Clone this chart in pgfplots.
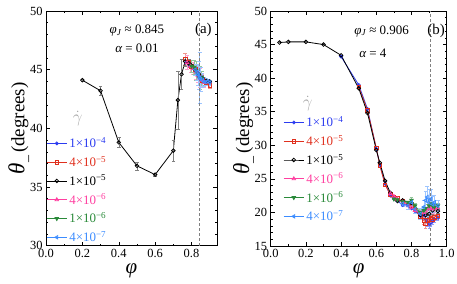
\documentclass[border=0pt]{standalone}
\usepackage{fontspec}
\setmainfont{Liberation Serif}
\usepackage{pgfplots}
\pgfplotsset{compat=1.18}
\definecolor{cA}{HTML}{2B3BF0}
\definecolor{cB}{HTML}{E0301E}
\definecolor{cC}{HTML}{000000}
\definecolor{cD}{HTML}{FF3FA0}
\definecolor{cE}{HTML}{2A8A3A}
\definecolor{cF}{HTML}{3C8CFF}
\pgfplotsset{
  myax/.style={
    scale only axis,
    axis line style={line width=0.6pt},
    tick align=inside,
    major tick length=4pt, minor tick length=2pt,
    every tick/.style={line width=0.5pt},
    tick label style={font=\fontsize{12.5}{14}\selectfont},
    /pgf/number format/assume math mode=true,
    xticklabel style={/pgf/number format/.cd, fixed, fixed zerofill, precision=1},
    xlabel={\fontsize{21}{22}\selectfont\itshape φ},
    ylabel={\fontsize{19}{20}\selectfont{\fontsize{23}{23}\selectfont\itshape θ}\raisebox{-3pt}{\fontsize{14}{14}\selectfont\_}\,(degrees)},
    xlabel style={yshift=1pt},
    ylabel style={yshift=-6pt},
    legend style={draw=none, fill=none, inner xsep=0pt, inner ysep=0pt, font=\fontsize{13}{14}\selectfont, row sep=3.0pt, /tikz/every even column/.append style={column sep=1pt}},
    legend cell align=left,
    legend image code/.code={\draw[mark repeat=2,mark phase=2] plot coordinates {(0cm,0cm) (0.36cm,0cm) (0.72cm,0cm)};},
    every axis plot/.append style={line width=0.8pt},
    error bars/error bar style={line width=0.5pt},
  },
  sA/.style={cA, mark=o, mark size=1.5pt, error bars/error bar style={cA!50}},
  sB/.style={cB, mark=square, mark size=1.8pt, error bars/error bar style={cB!50}},
  sC/.style={cC, mark=o, mark size=1.8pt, error bars/error bar style={gray}},
  sD/.style={cD, mark=triangle, mark size=2pt, error bars/error bar style={cD!50}},
  sE/.style={cE, mark=triangle*, mark size=2pt, mark options={rotate=180}, error bars/error bar style={cE!50}},
  sF/.style={cF, mark=triangle, mark size=2pt, mark options={rotate=90}, error bars/error bar style={cF!50}},
}
\begin{document}
\begin{tikzpicture}
\useasboundingbox (0,0) rectangle (457bp,284bp);
% ---------------- panel (a)
\begin{axis}[myax, at={(46bp,38.4bp)}, anchor=south west,
  width=171bp, height=234.6bp,
  xmin=0, xmax=0.94, ymin=30, ymax=50,
  xtick={0,0.2,0.4,0.6,0.8}, ytick={30,35,40,45,50},
  minor x tick num=1, minor y tick num=4,
  legend style={at={(0,0.47)}, anchor=north west},
  error bars/y dir=both, error bars/y explicit]
\addplot[sA] coordinates {(0.77,45.6) (0.79,45.35) (0.81,45.1) (0.83,44.8) (0.85,44.4) (0.87,44.1) (0.88,44.0) (0.9,43.9)};
\addlegendentry{\textcolor{cA}{1×10\textsuperscript{−4}}}
\addplot[sB] coordinates {(0.765,45.9) +- (0,0.5) (0.785,45.6) +- (0,0.3) (0.8,45.3) +- (0,0.3) (0.82,45.0) +- (0,0.3) (0.84,44.5) +- (0,0.3) (0.86,44.1) +- (0,0.2) (0.88,43.9) +- (0,0.2) (0.9,43.65) +- (0,0.2)};
\addlegendentry{\textcolor{cB}{4×10\textsuperscript{−5}}}
\addplot[sC] coordinates {(0.2,44.1) +- (0,0.1) (0.3,43.2) +- (0,0.35) (0.4,38.8) +- (0,0.4) (0.5,36.8) +- (0,0.35) (0.6,36.05) +- (0,0.15) (0.7,38.1) +- (0,0.9) (0.725,42.4) +- (0,2.5) (0.745,44.6) +- (0,1.3) (0.765,45.7) +- (0,0.4) (0.785,45.55) +- (0,0.3) (0.8,45.35) +- (0,0.3) (0.82,45.0) +- (0,0.3) (0.84,44.6) +- (0,0.3) (0.86,44.3) +- (0,0.2) (0.88,44.05) +- (0,0.2) (0.9,44.0) +- (0,0.1)};
\addlegendentry{\textcolor{cC}{1×10\textsuperscript{−5}}}
\addplot[sD] coordinates {(0.775,45.6) +- (0,0.6) (0.795,45.3) +- (0,0.5) (0.81,45.1) +- (0,0.5) (0.825,44.8) +- (0,0.6) (0.835,44.5) +- (0,0.6) (0.845,44.3) +- (0,0.8) (0.855,44.1) +- (0,0.5) (0.87,43.9) +- (0,0.4)};
\addlegendentry{\textcolor{cD}{4×10\textsuperscript{−6}}}
\addplot[sE] coordinates {(0.8,45.3) +- (0,0.5) (0.815,45.2) +- (0,0.6) (0.825,44.9) +- (0,0.8) (0.835,44.6) +- (0,0.9) (0.845,44.3) +- (0,1.0) (0.855,44.3) +- (0,0.6)};
\addlegendentry{\textcolor{cE}{1×10\textsuperscript{−6}}}
\addplot[sF] coordinates {(0.82,45.0) +- (0,0.5) (0.83,44.8) +- (0,0.7) (0.835,44.6) +- (0,0.9) (0.84,44.5) +- (0,1.2) (0.845,44.3) +- (0,2.2) (0.85,44.2) +- (0,1.0) (0.86,44.1) +- (0,0.6) (0.87,43.95) +- (0,0.4) (0.88,43.95) +- (0,0.3) (0.89,44.0) +- (0,0.2) (0.9,43.9) +- (0,0.2)};
\addlegendentry{\textcolor{cF}{4×10\textsuperscript{−7}}}
\addplot[gray, densely dashed, line width=0.7pt, no marks, forget plot] coordinates {(0.845,30) (0.845,50)};
\node[font=\fontsize{13}{14}\selectfont] at (axis cs:0.5,48.3) {{\itshape φ}\textsubscript{\itshape J} ≈ 0.845};
\node[font=\fontsize{13}{14}\selectfont] at (axis cs:0.5,46.8) {{\itshape α} = 0.01};
\node[font=\fontsize{15}{16}\selectfont] at (axis cs:0.865,48.35) {(a)};
\node[font=\fontsize{17}{17}\selectfont, gray!70, inner sep=0pt] at (axis cs:0.175,40.8) {$\dot\gamma$};
\end{axis}
% ---------------- panel (b)
\begin{axis}[myax, at={(270.7bp,38bp)}, anchor=south west,
  width=176bp, height=235bp,
  xmin=0, xmax=1, ymin=15, ymax=50,
  xtick={0,0.2,0.4,0.6,0.8,1.0}, ytick={15,20,25,30,35,40,45,50},
  minor x tick num=1, minor y tick num=4,
  legend style={at={(0.07,0.56)}, anchor=north west},
  error bars/y dir=both, error bars/y explicit]
\addplot[sA] coordinates {(0.4,43.2) (0.5,39.0) (0.55,35.4) (0.6,29.5) (0.62,27.1) (0.65,24.3) (0.68,22.5) (0.7,22.0) (0.72,21.7) (0.75,21.1) (0.78,21.2) (0.8,20.6) (0.82,20.2) (0.85,19.5) (0.87,19.6) (0.88,19.0) +- (0,0.5) (0.89,18.6) +- (0,0.6) (0.9,18.3) +- (0,0.7) (0.91,18.5) +- (0,0.6) (0.92,18.7) +- (0,0.5) (0.93,19.0) +- (0,0.5) (0.95,19.2) +- (0,0.4)};
\addlegendentry{\textcolor{cA}{1×10\textsuperscript{−4}}}
\addplot[sB] coordinates {(0.5,38.7) (0.55,35.2) (0.6,29.6) (0.62,27.0) (0.65,24.1) (0.68,22.7) (0.7,22.3) (0.72,22.1) (0.75,21.6) (0.8,21.0) (0.82,20.4) (0.85,19.4) (0.87,18.8) +- (0,0.5) (0.88,18.3) +- (0,0.6) (0.89,18.8) +- (0,0.7) (0.9,18.9) +- (0,0.6) (0.91,19.2) +- (0,0.6) (0.92,19.0) +- (0,0.5) (0.93,19.3) +- (0,0.5) (0.95,19.5) +- (0,0.4)};
\addlegendentry{\textcolor{cB}{4×10\textsuperscript{−5}}}
\addplot[sC] coordinates {(0.05,45.3) (0.1,45.4) (0.2,45.4) (0.3,45.0) (0.4,43.4) (0.5,38.5) (0.55,34.8) (0.6,29.3) (0.62,27.4) (0.65,24.7) (0.68,22.9) (0.72,21.7) (0.75,21.8) (0.8,21.4) (0.85,19.6) (0.88,19.6) +- (0,0.4) (0.9,19.8) +- (0,0.5) (0.92,20.3) +- (0,0.5) (0.95,20.2) +- (0,0.3)};
\addlegendentry{\textcolor{cC}{1×10\textsuperscript{−5}}}
\addplot[sD] coordinates {(0.68,22.8) (0.7,22.4) (0.72,22.0) (0.75,21.5) (0.78,21.0) (0.8,20.7) (0.82,20.3) (0.85,19.9) +- (0,0.4) (0.87,20.0) +- (0,0.5) (0.88,20.2) +- (0,0.6) (0.89,20.5) +- (0,0.7) (0.9,20.6) +- (0,0.8) (0.91,20.8) +- (0,0.7) (0.92,20.5) +- (0,0.6) (0.93,20.6) +- (0,0.5) (0.95,20.7) +- (0,0.4)};
\addlegendentry{\textcolor{cD}{4×10\textsuperscript{−6}}}
\addplot[sE] coordinates {(0.7,22.0) (0.72,21.9) (0.75,21.6) (0.78,21.5) (0.8,21.8) +- (0,0.4) (0.82,21.0) +- (0,0.4) (0.85,20.0) +- (0,0.5) (0.87,20.3) +- (0,0.6) (0.88,20.6) +- (0,0.7) (0.9,21.0) +- (0,0.9) (0.91,21.3) +- (0,0.8) (0.92,21.0) +- (0,0.6) (0.93,20.8) +- (0,0.5) (0.95,21.0) +- (0,0.4)};
\addlegendentry{\textcolor{cE}{1×10\textsuperscript{−6}}}
\addplot[sF] coordinates {(0.75,21.3) +- (0,0.4) (0.78,21.0) +- (0,0.5) (0.8,21.5) +- (0,0.5) (0.82,20.5) +- (0,0.6) (0.85,19.8) +- (0,0.8) (0.87,20.8) +- (0,1.0) (0.88,21.8) +- (0,1.4) (0.89,22.3) +- (0,1.6) (0.9,21.5) +- (0,2.0) (0.91,22.0) +- (0,1.5) (0.92,21.2) +- (0,1.2) (0.93,21.5) +- (0,1.0) (0.95,21.0) +- (0,0.8)};
\addlegendentry{\textcolor{cF}{4×10\textsuperscript{−7}}}
\addplot[gray, densely dashed, line width=0.7pt, no marks, forget plot] coordinates {(0.906,15) (0.906,50)};
\node[font=\fontsize{13}{14}\selectfont] at (axis cs:0.63,47.0) {{\itshape φ}\textsubscript{\itshape J} ≈ 0.906};
\node[font=\fontsize{13}{14}\selectfont] at (axis cs:0.58,43.7) {{\itshape α} = 4};
\node[font=\fontsize{15}{16}\selectfont] at (axis cs:0.94,47.0) {(b)};
\node[font=\fontsize{17}{17}\selectfont, gray!70, inner sep=0pt] at (axis cs:0.21,36.2) {$\dot\gamma$};
\end{axis}
\end{tikzpicture}
\end{document}
